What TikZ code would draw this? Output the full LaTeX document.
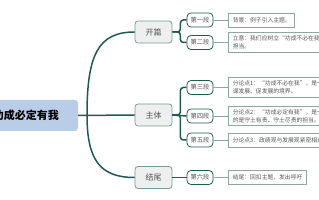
\documentclass[tikz,border=0pt]{standalone}
\usepackage{fontspec}
\newfontfamily\cjk{Noto Sans CJK SC}
\usepackage{tikz}
\usetikzlibrary{
  positioning
}
\definecolor{TrunkTeal}{RGB}{30,90,80}
\definecolor{TopicFill}{RGB}{237,240,239}
\definecolor{TopicLine}{RGB}{122,153,148}
\definecolor{NoteLine}{RGB}{143,167,162}
\definecolor{NoteText}{RGB}{85,85,85}
\definecolor{RootFill}{RGB}{186,205,230}
\tikzset{
  rootbox/.style={
    fill=RootFill,
    rounded corners=3pt,
    minimum width=104pt,
    minimum height=31pt,
    font=\cjk\bfseries\fontsize{11}{13}\selectfont
  },
  topicbox/.style={
    draw=TopicLine,
    fill=TopicFill,
    line width=0.8pt,
    rounded corners=3pt,
    minimum width=37pt,
    minimum height=22pt,
    text=NoteText,
    font=\cjk\fontsize{8}{10}\selectfont
  },
  partbox/.style={
    draw=TrunkTeal,
    fill=white,
    line width=0.8pt,
    rounded corners=4pt,
    minimum width=26pt,
    minimum height=14pt,
    inner sep=1pt,
    text=NoteText,
    font=\cjk\fontsize{6.3}{8}\selectfont
  },
  notebox/.style={
    draw=NoteLine,
    fill=white,
    line width=0.7pt,
    minimum height=14pt,
    inner xsep=4pt,
    inner ysep=3pt,
    align=left,
    text=NoteText,
    font=\cjk\fontsize{5.8}{8}\selectfont
  },
  trunk/.style={draw=TrunkTeal,line width=1.5pt},
  branch/.style={draw=TrunkTeal,line width=1.5pt,rounded corners=3pt},
  leafline/.style={draw=NoteLine,line width=0.7pt}
}

\begin{document}
\begin{tikzpicture}[x=1pt,y=-1pt]
  \clip (0,0) rectangle (319,200);
  \node[rootbox] (root) at (26,115.5) {功成必定有我};
  \node[topicbox] (kaipian) at (153.5,32) {开篇};
  \node[topicbox] (zhuti) at (153.5,115) {主体};
  \node[topicbox] (jiewei) at (153.5,177.5) {结尾};

  \node[partbox] (d1) at (200,20) {第一段};
  \node[partbox] (d2) at (200,42.5) {第二段};
  \node[partbox] (d3) at (200,87.5) {第三段};
  \node[partbox] (d4) at (200,116) {第四段};
  \node[partbox] (d5) at (200,140) {第五段};
  \node[partbox] (d6) at (200,177.5) {第六段};

  \node[notebox, right=15pt of d1] (t1) {背景：例子引入主题。};
  \node[notebox, right=15pt of d2] (t2) {立意：我们应树立“功成不必在我”的精神和“功成必定有我”的\\担当。};
  \node[notebox, right=15pt of d3] (t3) {分论点1：“功成不必在我”，是一种甘为人梯、久久为功、\\谋发展、促发展的境界。};
  \node[notebox, right=15pt of d4] (t4) {分论点2：“功成必定有我”，是一种责任，体现\\的是守土有责、守土尽责的担当。};
  \node[notebox, right=15pt of d5] (t5) {分论点3：政绩观与发展观紧密相连，不可分割。};
  \node[notebox, right=15pt of d6] (t6) {结尾：回扣主题，发出呼吁};

  % trunk from the root
  \draw[trunk] (root.east) -- (zhuti.west);
  \draw[trunk] (87,115) .. controls (87,55) and (98,32) .. (kaipian.west);
  \draw[trunk] (87,115) .. controls (87,160) and (100,177.5) .. (jiewei.west);

  % brackets to the parts
  \draw[branch] (kaipian.east) -- ++(8,0) |- (d1.west);
  \draw[branch] (kaipian.east) -- ++(8,0) |- (d2.west);
  \draw[branch] (zhuti.east) -- ++(8,0) |- (d3.west);
  \draw[branch] (zhuti.east) -- (d4.west);
  \draw[branch] (zhuti.east) -- ++(8,0) |- (d5.west);
  \draw[branch] (jiewei.east) -- (d6.west);

  \foreach \i in {1,...,6}
    \draw[leafline] (d\i.east) -- (t\i.west);
\end{tikzpicture}
\end{document}
